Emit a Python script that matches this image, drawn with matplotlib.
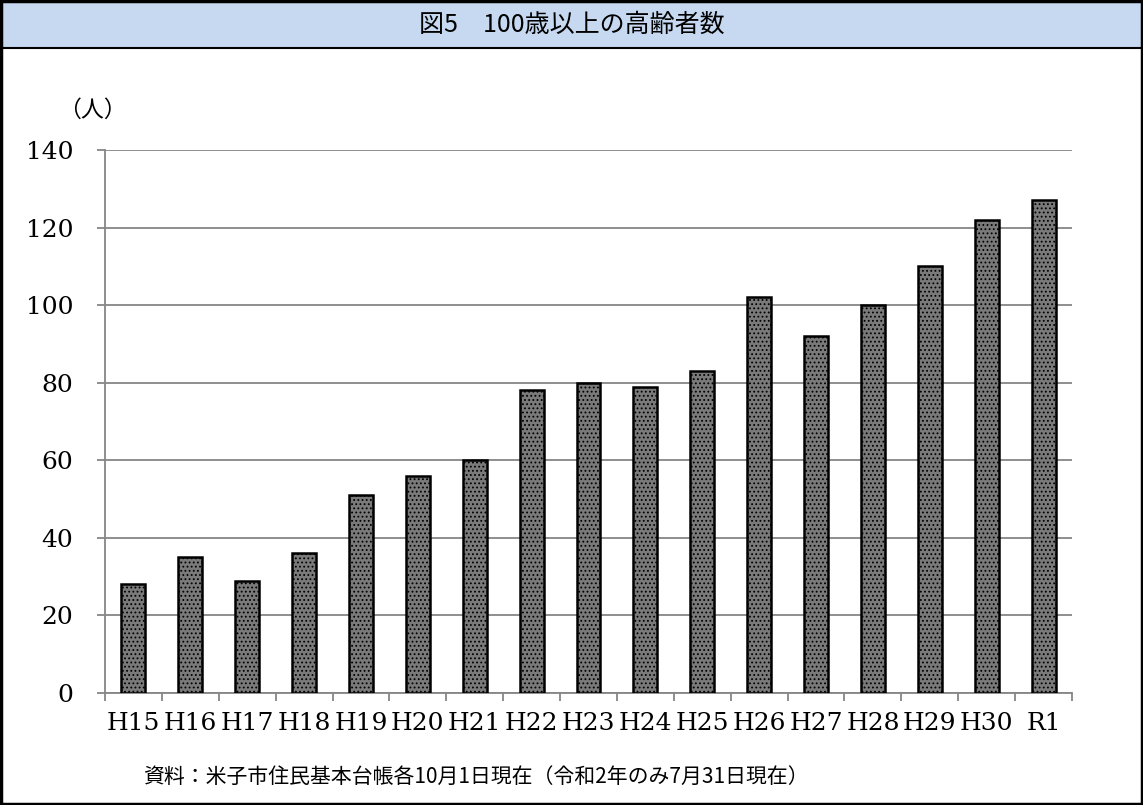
import matplotlib
matplotlib.use("Agg")
import matplotlib.pyplot as plt
from matplotlib.patches import Rectangle
from matplotlib.lines import Line2D
import numpy as np

categories = ["H15", "H16", "H17", "H18", "H19", "H20", "H21", "H22", "H23",
              "H24", "H25", "H26", "H27", "H28", "H29", "H30", "R1"]
values = [28, 35, 29, 36, 51, 56, 60, 78, 80, 79, 83, 102, 92, 100, 110, 122, 127]
yticks = [0, 20, 40, 60, 80, 100, 120, 140]
title = "図5　100歳以上の高齢者数"
unit_label = "（人）"
source = "資料：米子市住民基本台帳各10月1日現在（令和2年のみ7月31日現在）"

plt.rcParams['hatch.color'] = '#e4e4e4'
plt.rcParams['hatch.linewidth'] = 0.8

fig = plt.figure(figsize=(11.43, 8.05), dpi=100)
fig.patch.set_facecolor('white')

# title band
fig.add_artist(Rectangle((0, 1 - 48 / 805), 1, 48 / 805, transform=fig.transFigure,
                         facecolor='#c6d9f1', edgecolor='none', zorder=0))
fig.add_artist(Line2D([0, 1], [1 - 48 / 805, 1 - 48 / 805], transform=fig.transFigure,
                      color='black', lw=1.5))
fig.add_artist(Rectangle((0.001, 0.001), 0.998, 0.998, transform=fig.transFigure,
                         facecolor='none', edgecolor='black', lw=2.5, zorder=10))
fig.text(0.5, 1 - 25 / 805, title, ha='center', va='center', fontsize=18,
         family=['Noto Sans CJK JP', 'DejaVu Sans'])

ax = fig.add_axes([105 / 1143, 1 - 693 / 805, (1072 - 105) / 1143, (693 - 150) / 805])
x = np.arange(len(categories))
ax.bar(x, values, width=0.42, color='#7a7a7a', edgecolor='black', linewidth=1.8,
       hatch='....', zorder=3)
ax.set_xlim(-0.5, len(categories) - 0.5)
ax.set_ylim(0, 140)
ax.set_yticks(yticks)
ax.set_yticklabels([str(v) for v in yticks], family='DejaVu Serif', fontsize=18)
ax.set_xticks(x)
ax.set_xticklabels(categories, family='DejaVu Serif', fontsize=18)
ax.tick_params(axis='x', length=0, pad=14)
ax.set_xticks(np.arange(-0.5, len(categories)), minor=True)
ax.tick_params(axis='x', which='minor', length=6, color='#868686', width=1.3, direction='out')
ax.tick_params(axis='y', length=6, color='#868686', width=1.3, direction='out', pad=17)
ax.grid(axis='y', color='#868686', lw=1.3, zorder=0)
for s in ['top', 'right']:
    ax.spines[s].set_visible(False)
for s in ['left', 'bottom']:
    ax.spines[s].set_color('#868686')
    ax.spines[s].set_linewidth(1.3)

fig.text(58 / 1143, 1 - 110 / 805, unit_label, ha='left', va='center', fontsize=16.5,
         family=['Noto Sans CJK JP', 'DejaVu Sans'])
fig.text(143 / 1143, 1 - 777 / 805, source, ha='left', va='center', fontsize=15,
         family=['Noto Sans CJK JP', 'DejaVu Sans'])

fig.savefig("out.png", dpi=100)
